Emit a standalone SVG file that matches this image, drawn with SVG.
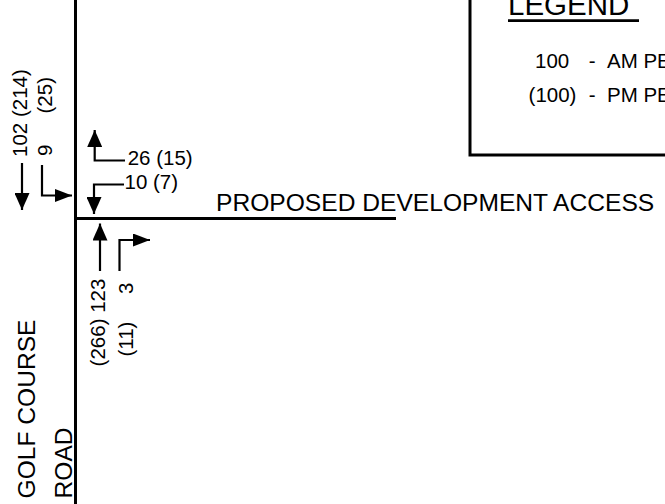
<svg xmlns="http://www.w3.org/2000/svg" width="665" height="504" viewBox="0 0 665 504">
<defs>
<marker id="ah" viewBox="0 0 17 15" markerWidth="17" markerHeight="15" refX="17" refY="7.5" orient="auto" markerUnits="userSpaceOnUse">
<path d="M0,0 L17,7.5 L0,15 Z" fill="#000"/>
</marker>
<marker id="ahs" viewBox="0 0 17 13" markerWidth="17" markerHeight="13" refX="17" refY="6.5" orient="auto" markerUnits="userSpaceOnUse">
<path d="M0,0 L17,6.5 L0,13 Z" fill="#000"/>
</marker>
</defs>
<style>
text{font-family:"Liberation Sans",Arial,sans-serif;fill:#000}
.lbl{font-size:20.5px}
.big{font-size:24.6px}
.road{stroke:#000;stroke-width:3;fill:none}
.arr{stroke:#000;stroke-width:2.2;fill:none;marker-end:url(#ah)}
.arrs{stroke:#000;stroke-width:2.2;fill:none;marker-end:url(#ahs)}
</style>
<rect width="665" height="504" fill="#fff"/>
<g id="roads">
<line class="road" x1="75.5" y1="0" x2="75.5" y2="504"/>
<line class="road" x1="77" y1="218.5" x2="396" y2="218.5"/>
</g>
<g id="legend">
<rect x="470" y="-10" width="210" height="165" fill="none" stroke="#000" stroke-width="3"/>
<text x="508" y="15" style="font-size:29.5px">LEGEND</text>
<line x1="508" y1="20.7" x2="639" y2="20.7" stroke="#000" stroke-width="2.7"/>
<text class="lbl" y="67.7"><tspan x="535">100</tspan><tspan x="588.7">-</tspan><tspan x="607">AM PE</tspan></text>
<text class="lbl" y="101.5"><tspan x="528.6">(100)</tspan><tspan x="588.7">-</tspan><tspan x="607">PM PE</tspan></text>
</g>
<g id="labels">
<text class="big" x="216" y="211">PROPOSED DEVELOPMENT ACCESS</text>
<text class="big" transform="translate(35,498.5) rotate(-90)">GOLF COURSE</text>
<text class="big" transform="translate(71.5,498.5) rotate(-90)">ROAD</text>
</g>
<g id="connectors">
<line class="arr" x1="22" y1="163" x2="22" y2="210"/>
<polyline class="arrs" points="42,165 42,195.5 72,195.5"/>
<polyline class="arr" points="125,160.5 94.7,160.5 94.7,130"/>
<polyline class="arr" points="124,184.5 94,184.5 94,214"/>
<line class="arr" x1="100" y1="271" x2="100" y2="223.5"/>
<polyline class="arrs" points="119.5,271 119.5,240 150,240"/>
</g>
<g id="sb-through">
<text class="lbl" transform="translate(26.5,157) rotate(-90)">102 (214)</text>
</g>
<g id="sb-right">
<text class="lbl" transform="translate(51.5,156) rotate(-90)">9</text>
<text class="lbl" transform="translate(51.5,113.5) rotate(-90)">(25)</text>
</g>
<g id="wb-left">
<text class="lbl" x="127.7" y="165">26 (15)</text>
</g>
<g id="wb-right">
<text class="lbl" x="124.5" y="189.3">10 (7)</text>
</g>
<g id="nb-through">
<text class="lbl" transform="translate(105,366.4) rotate(-90)">(266) 123</text>
</g>
<g id="nb-right">
<text class="lbl" transform="translate(133,294) rotate(-90)">3</text>
<text class="lbl" transform="translate(133,356.5) rotate(-90)">(11)</text>
</g>
</svg>
